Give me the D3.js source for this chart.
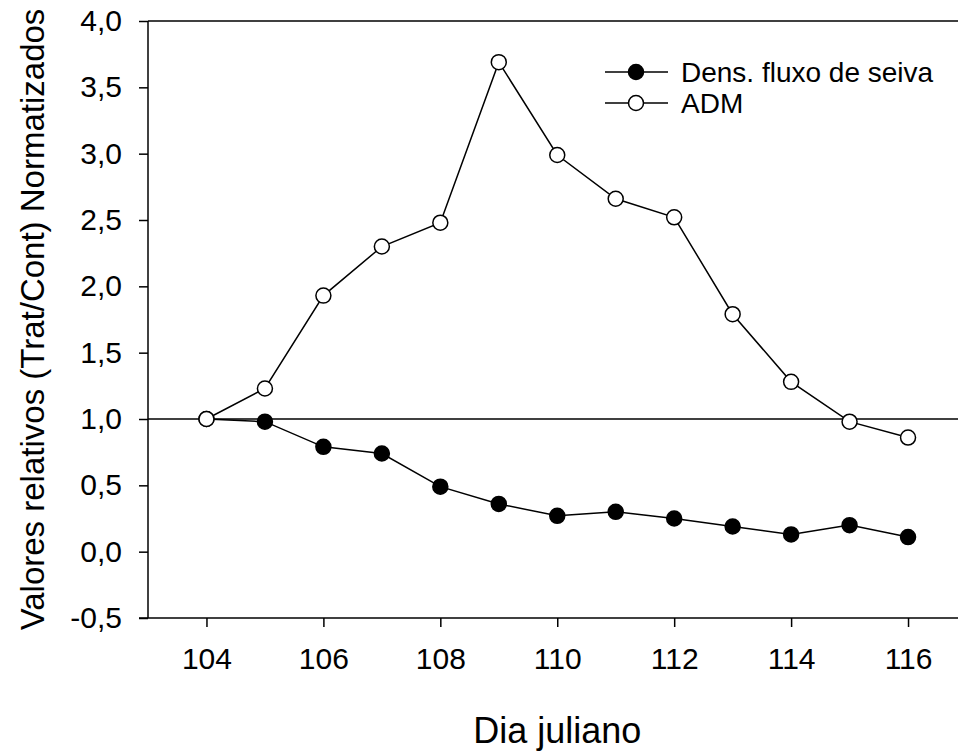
<!DOCTYPE html>
<html>
<head>
<meta charset="utf-8">
<script src="https://cdn.jsdelivr.net/npm/d3@7"></script>
<style>
  html, body { margin: 0; padding: 0; background: #fff; }
  svg { display: block; font-family: "Liberation Sans", Arial, sans-serif; }
</style>
</head>
<body>
<svg id="chart" width="958" height="754"></svg>
<script>
// Julian days and normalized relative values (treatment / control)
const days = [104, 105, 106, 107, 108, 109, 110, 111, 112, 113, 114, 115, 116];
const sapFlux = [1.00, 0.98, 0.79, 0.74, 0.49, 0.36, 0.27, 0.30, 0.25, 0.19, 0.13, 0.20, 0.11];
const adm = [1.00, 1.23, 1.93, 2.30, 2.48, 3.69, 2.99, 2.66, 2.52, 1.79, 1.28, 0.98, 0.86];
const seriesNames = ["Dens. fluxo de seiva", "ADM"];
const xTicks = [104, 106, 108, 110, 112, 114, 116];
const yTicks = [-0.5, 0, 0.5, 1.0, 1.5, 2.0, 2.5, 3.0, 3.5, 4.0];
const referenceLevel = 1.0;

const svg = d3.select("#chart");
const margin = { left: 148, top: 21, right: -8.5, bottom: 136 };
const W = 958, H = 754;

const x = d3.scaleLinear().domain([103, 117]).range([margin.left, W - margin.right]);
const y = d3.scaleLinear().domain([-0.5, 4.0]).range([H - margin.bottom, margin.top]);

const fmt = d => d3.format(".1f")(d).replace(".", ",").replace("−", "-");

// top frame line
svg.append("line")
  .attr("x1", x(103)).attr("x2", x(117))
  .attr("y1", y(4.0)).attr("y2", y(4.0))
  .attr("stroke", "#000").attr("stroke-width", 1.5);

const xAxis = svg.append("g")
  .attr("transform", `translate(0,${y(-0.5)})`)
  .call(d3.axisBottom(x).tickValues(xTicks).tickSize(9).tickPadding(21).tickFormat(d3.format("d")));
const yAxis = svg.append("g")
  .attr("transform", `translate(${x(103)},0)`)
  .call(d3.axisLeft(y).tickValues(yTicks).tickSize(9).tickPadding(17).tickFormat(fmt));

[xAxis, yAxis].forEach(g => {
  g.select(".domain").attr("stroke", "#000").attr("stroke-width", 1.5);
  g.selectAll(".tick line").attr("stroke", "#000").attr("stroke-width", 1.5);
  g.selectAll(".tick text").attr("fill", "#000")
    .style("font-size", "30px").style("font-family", "Liberation Sans, Arial, sans-serif");
});
// bottom axis runs across the full plot width
xAxis.select(".domain").attr("d", `M${x(103) - 9},0H${x(117)}`);
yAxis.select(".domain").attr("d", `M0,${y(-0.5)}V${y(4.0)}`);

// axis titles
svg.append("text")
  .attr("x", (x(103) + x(117)) / 2).attr("y", 743)
  .attr("text-anchor", "middle")
  .style("font-size", "36px")
  .text("Dia juliano");

svg.append("text")
  .attr("transform", `translate(44,${(y(-0.5) + y(4.0)) / 2}) rotate(-90)`)
  .attr("text-anchor", "middle")
  .style("font-size", "33px")
  .text("Valores relativos (Trat/Cont) Normatizados");

// reference line at 1.0
svg.append("line")
  .attr("x1", x(103)).attr("x2", x(117))
  .attr("y1", y(referenceLevel)).attr("y2", y(referenceLevel))
  .attr("stroke", "#000").attr("stroke-width", 1.5);

const line = d3.line().x((d, i) => x(days[i])).y(d => y(d));

function drawSeries(values, fill) {
  svg.append("path")
    .datum(values)
    .attr("d", line)
    .attr("fill", "none")
    .attr("stroke", "#000")
    .attr("stroke-width", 1.5);
  svg.append("g").selectAll("circle")
    .data(values)
    .join("circle")
    .attr("cx", (d, i) => x(days[i]))
    .attr("cy", d => y(d))
    .attr("r", 7.5)
    .attr("fill", fill)
    .attr("stroke", "#000")
    .attr("stroke-width", 1.5);
}

drawSeries(sapFlux, "#000");
drawSeries(adm, "#fff");

// legend
const legend = svg.append("g");
seriesNames.forEach((name, i) => {
  const ly = 72 + i * 31;
  legend.append("line")
    .attr("x1", 605).attr("x2", 668).attr("y1", ly).attr("y2", ly)
    .attr("stroke", "#000").attr("stroke-width", 1.5);
  legend.append("circle")
    .attr("cx", 636).attr("cy", ly).attr("r", 7.5)
    .attr("fill", i === 0 ? "#000" : "#fff")
    .attr("stroke", "#000").attr("stroke-width", 1.5);
  legend.append("text")
    .attr("x", 681).attr("y", ly)
    .attr("dy", "0.35em")
    .style("font-size", "28px")
    .text(name);
});
</script>
</body>
</html>
